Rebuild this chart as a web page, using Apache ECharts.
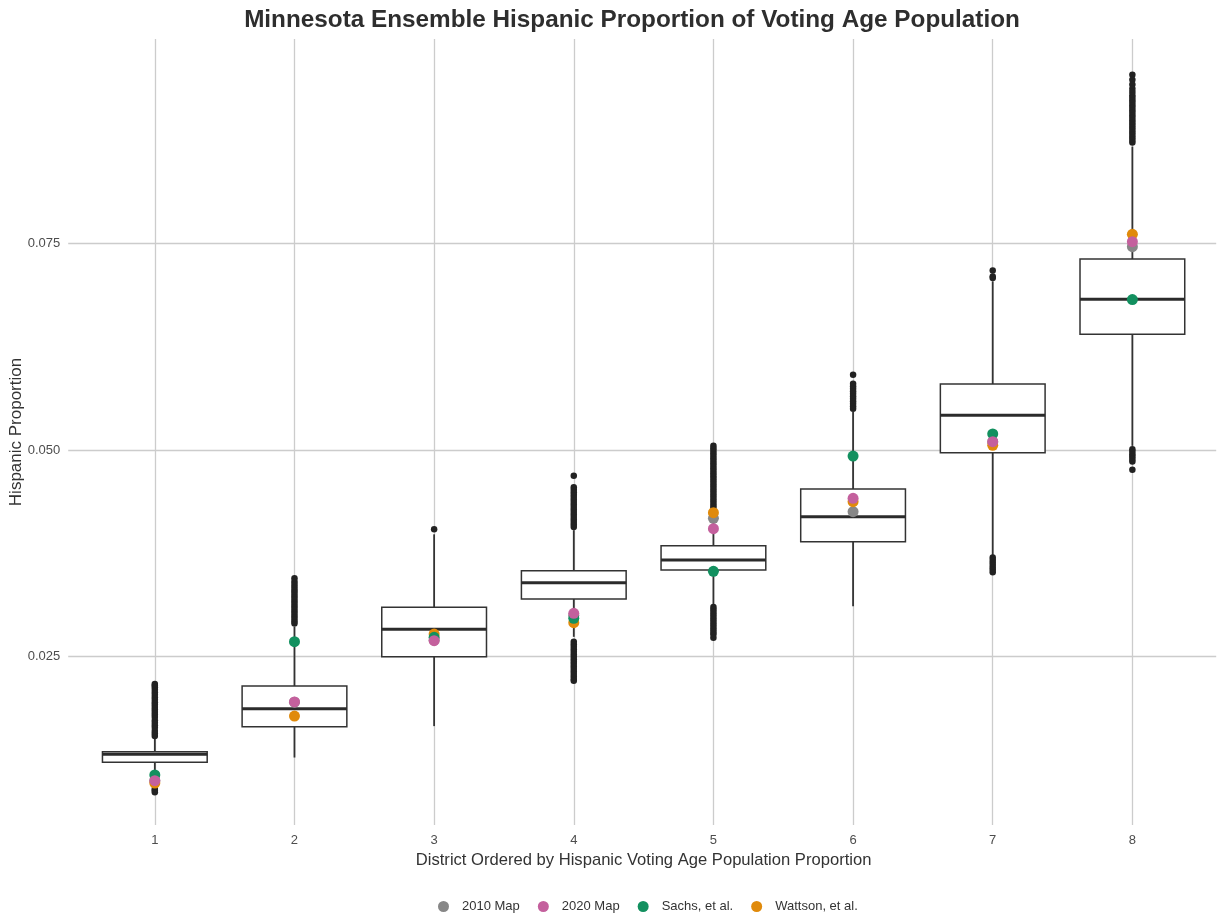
<!DOCTYPE html>
<html><head><meta charset="utf-8">
<script src="https://cdn.jsdelivr.net/npm/echarts@6/dist/echarts.min.js"></script>
<style>html,body{margin:0;padding:0;background:#fff}#c{width:1225px;height:918px}</style>
</head><body><div id="c"></div>
<script>
// ---- data ----
const districts = ['1','2','3','4','5','6','7','8'];
const whiskerLow  = [0.0103, 0.0128, 0.0166, 0.0274, 0.0312, 0.0311, 0.0373, 0.0505];
const q1          = [0.01222, 0.01653, 0.0250, 0.03198, 0.03548, 0.03891, 0.04967, 0.0640];
const median      = [0.01319, 0.01871, 0.02831, 0.03395, 0.03669, 0.04193, 0.0542, 0.06823];
const q3          = [0.01351, 0.02145, 0.03097, 0.0354, 0.03843, 0.04528, 0.05798, 0.0731];
const whiskerHigh = [0.0152, 0.0286, 0.0398, 0.0403, 0.0428, 0.0546, 0.0704, 0.0867];

const outliers1 = [0.0154,0.0157,0.0160,0.0164,0.0167,0.0170,0.0173,0.0177,0.0180,0.0183,0.0186,0.0189,0.0192,0.0195,0.0198,0.0201,0.0204,0.0207,0.0210,0.0213,0.0215,0.0217,0.0090,0.0088,0.0086];
const outliers2 = [0.0290,0.0293,0.0296,0.0299,0.0302,0.0305,0.0308,0.0311,0.0314,0.0317,0.0320,0.0323,0.0326,0.0329,0.0332,0.0335,0.0338,0.0341,0.0345];
const outliers3 = [0.0404];
const outliers4 = [0.0407,0.0410,0.0413,0.0416,0.0419,0.0422,0.0425,0.0428,0.0431,0.0434,0.0437,0.0440,0.0443,0.0446,0.0449,0.0452,0.0455,0.0469,0.0268,0.0265,0.0262,0.0259,0.0256,0.0253,0.0250,0.0247,0.0244,0.0241,0.0238,0.0235,0.0232,0.0229,0.0226,0.0223,0.0221];
const outliers5 = [0.0430,0.0433,0.0436,0.0439,0.0442,0.0445,0.0448,0.0451,0.0454,0.0457,0.0460,0.0463,0.0466,0.0469,0.0472,0.0475,0.0478,0.0481,0.0484,0.0487,0.0490,0.0493,0.0496,0.0499,0.0502,0.0505,0.0310,0.0307,0.0304,0.0301,0.0298,0.0295,0.0292,0.0289,0.0286,0.0283,0.0280,0.0277,0.0273];
const outliers6 = [0.0591,0.0580,0.0577,0.0574,0.0571,0.0568,0.0565,0.0562,0.0559,0.0556,0.0553,0.0550];
const outliers7 = [0.0717,0.0710,0.0708,0.0370,0.0367,0.0364,0.0361,0.0358,0.0355,0.0352];
const outliers8 = [0.0954,0.0948,0.0942,0.0937,0.0933,0.0929,0.0926,0.0923,0.0920,0.0917,0.0914,0.0911,0.0908,0.0905,0.0902,0.0899,0.0896,0.0893,0.0890,0.0887,0.0884,0.0881,0.0878,0.0875,0.0872,0.0501,0.0498,0.0495,0.0492,0.0489,0.0486,0.0476];
const outlierLists = [outliers1,outliers2,outliers3,outliers4,outliers5,outliers6,outliers7,outliers8];

const map2010   = [0.0100, 0.0195, 0.0270, 0.0300, 0.04174, 0.04254, 0.0510, 0.0746];
const map2020   = [0.0100, 0.01952, 0.02693, 0.03024, 0.04048, 0.04416, 0.05101, 0.0752];
const sachs     = [0.01069, 0.02681, 0.02734, 0.02964, 0.03532, 0.04927, 0.05194, 0.0682];
const wattson   = [0.00972, 0.01782, 0.02774, 0.02911, 0.04242, 0.04375, 0.05057, 0.07609];

const yTicks = [0.025, 0.050, 0.075];

// ---- chart ----
const FONT = '"Liberation Sans", Arial, Helvetica, sans-serif';
const chart = echarts.init(document.getElementById('c'), null, {renderer: 'canvas'});

const boxData = districts.map((d, i) => [i, whiskerLow[i], q1[i], median[i], q3[i], whiskerHigh[i]]);
const outlierData = [];
outlierLists.forEach((arr, i) => arr.forEach(v => outlierData.push([i, v])));
const pts = arr => arr.map((v, i) => [i, v]);

function renderBox(params, api) {
  const x = api.value(0);
  const pLow = api.coord([x, api.value(1)]);
  const pQ1 = api.coord([x, api.value(2)]);
  const pMed = api.coord([x, api.value(3)]);
  const pQ3 = api.coord([x, api.value(4)]);
  const pHigh = api.coord([x, api.value(5)]);
  const w = api.size([1, 0])[0] * 0.75;
  const cx = pMed[0];
  const stroke = '#333333';
  return {
    type: 'group',
    children: [
      {type: 'line', shape: {x1: cx, y1: pLow[1], x2: cx, y2: pQ1[1]}, style: {stroke, lineWidth: 1.8}},
      {type: 'line', shape: {x1: cx, y1: pQ3[1], x2: cx, y2: pHigh[1]}, style: {stroke, lineWidth: 1.8}},
      {type: 'rect', shape: {x: cx - w / 2, y: pQ3[1], width: w, height: pQ1[1] - pQ3[1]}, style: {fill: '#ffffff', stroke, lineWidth: 1.5}},
      {type: 'line', shape: {x1: cx - w / 2, y1: pMed[1], x2: cx + w / 2, y2: pMed[1]}, style: {stroke: '#2b2b2b', lineWidth: 3}}
    ]
  };
}

const pointSeries = (name, data, color, z) => ({
  name, type: 'scatter', xAxisIndex: 0, yAxisIndex: 0, data: pts(data),
  symbol: 'circle', symbolSize: 11, itemStyle: {color, opacity: 1}, z, silent: true
});

chart.setOption({
  animation: false,
  backgroundColor: '#ffffff',
  title: {
    text: 'Minnesota Ensemble Hispanic Proportion of Voting Age Population',
    left: 627, top: 3, textAlign: 'center',
    textStyle: {fontFamily: FONT, fontSize: 24.3, fontWeight: 'bold', color: '#2e2e2e'}
  },
  legend: {
    data: ['2010 Map', '2020 Map', 'Sachs, et al.', 'Wattson, et al.'],
    left: 433, top: 895, icon: 'circle', itemWidth: 11, itemHeight: 11, itemGap: 18,
    textStyle: {fontFamily: FONT, fontSize: 13, color: '#333333', padding: [0, 0, 0, 8]}
  },
  grid: [
    {left: 82.2, right: 22.8, top: 39, bottom: 93, containLabel: false},
    {left: 68.2, right: 8.8, top: 36.65, bottom: 54.65, containLabel: false}
  ],
  xAxis: [
    {
      type: 'category', gridIndex: 0, data: districts, boundaryGap: true,
      axisLine: {show: false}, axisTick: {show: false}, splitLine: {show: false},
      axisLabel: {fontFamily: FONT, fontSize: 13, color: '#4d4d4d', margin: 9},
      name: 'District Ordered by Hispanic Voting Age Population Proportion',
      nameLocation: 'middle', nameGap: 25,
      nameTextStyle: {fontFamily: FONT, fontSize: 16.6, color: '#333333'}
    },
    {type: 'value', gridIndex: 1, min: 0, max: 1, show: false}
  ],
  yAxis: [
    {
      type: 'value', gridIndex: 0, min: 0.004639, max: 0.099716,
      axisLine: {show: false}, axisTick: {show: false}, splitLine: {show: false},
      axisLabel: {show: false},
      name: 'Hispanic Proportion', nameLocation: 'middle', nameGap: 60,
      nameTextStyle: {fontFamily: FONT, fontSize: 17, color: '#333333'}
    },
    {
      type: 'value', gridIndex: 1, min: 0, max: 0.1, interval: 0.025,
      axisLine: {show: false}, axisTick: {show: false},
      splitLine: {show: true, showMinLine: false, showMaxLine: false, lineStyle: {color: '#cccccc', width: 1.3}},
      axisLabel: {
        fontFamily: FONT, fontSize: 13, color: '#4d4d4d', margin: 8,
        showMinLabel: false, showMaxLabel: false,
        formatter: v => yTicks.some(t => Math.abs(t - v) < 1e-9) ? v.toFixed(3) : ''
      }
    }
  ],
  series: [
    {
      name: 'grid-x', type: 'scatter', xAxisIndex: 0, yAxisIndex: 0, data: [], z: 1, silent: true,
      markLine: {
        silent: true, z: 1, symbol: ['none', 'none'], label: {show: false},
        lineStyle: {color: '#cccccc', width: 1.3, type: 'solid'},
        data: districts.map(d => ({xAxis: d}))
      }
    },
    {
      name: 'box', type: 'custom', xAxisIndex: 0, yAxisIndex: 0, renderItem: renderBox,
      data: boxData, encode: {x: 0, y: [1, 2, 3, 4, 5]}, z: 2, silent: true
    },
    {
      name: 'outliers', type: 'scatter', xAxisIndex: 0, yAxisIndex: 0, data: outlierData,
      symbol: 'circle', symbolSize: 6.5, itemStyle: {color: '#222222', opacity: 1}, z: 3, silent: true
    },
    pointSeries('2010 Map', map2010, '#878787', 4),
    pointSeries('Wattson, et al.', wattson, '#E08A0B', 5),
    pointSeries('Sachs, et al.', sachs, '#12905F', 6),
    pointSeries('2020 Map', map2020, '#C4609D', 7)
  ]
});
</script>
</body></html>
